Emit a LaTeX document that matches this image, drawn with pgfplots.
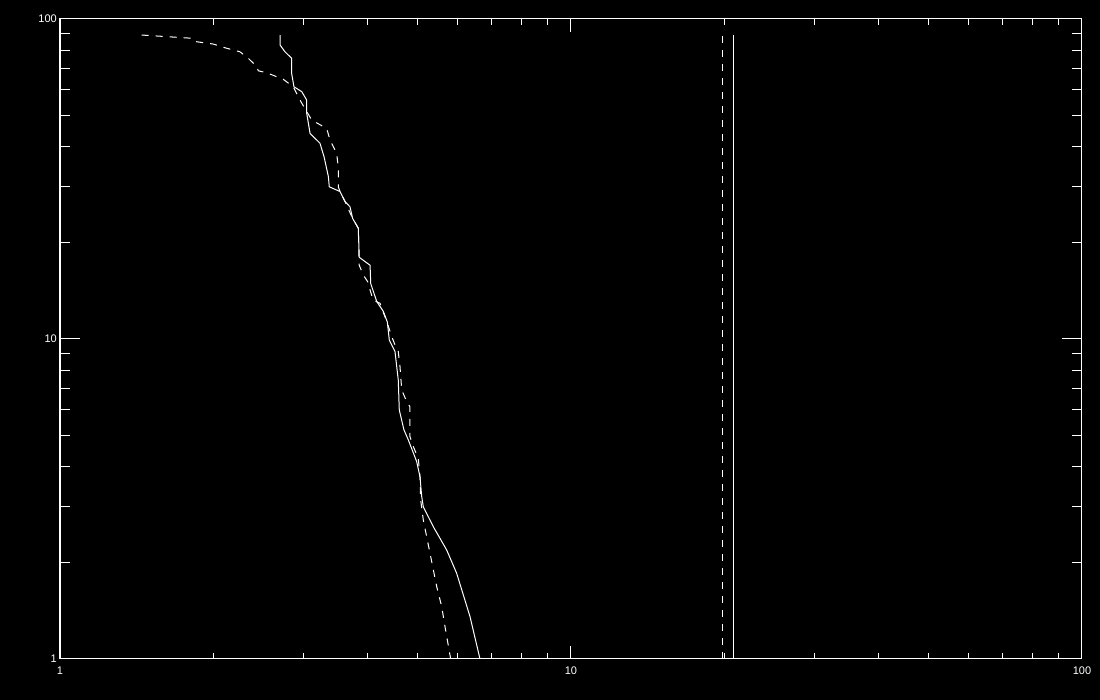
\documentclass[border=0pt]{standalone}
\usepackage{pgfplots}
\pgfplotsset{compat=1.18}
\usepackage{fontspec}
\setmainfont{Liberation Sans}
\begin{document}
\begin{tikzpicture}
\fill[black] (-60pt,-41pt) rectangle (1040pt,659pt);
\begin{axis}[
  xmode=log, ymode=log,
  scale only axis, width=1022pt, height=640pt,
  xmin=1, xmax=100, ymin=1, ymax=100,
  axis line style={white, line width=1pt},
  tick style={white, line width=1pt},
  tick align=inside,
  tick label style={text=white, font=\fontsize{11}{12}\selectfont, inner sep=0pt},
  xtick={1,10,100}, xticklabels={1,10,100},
  xticklabel style={yshift=-8pt},
  ytick=\empty, yminorticks=false,
  major tick length=13pt, minor tick length=6.4pt,
]
\addplot[white, line width=1pt] coordinates {
(2.696,89.1) (2.696,82.9) (2.756,79.0) (2.840,75.4) (2.840,67.6) (2.870,61.4)
(2.972,59.3) (3.040,55.8) (3.040,50.7) (3.086,43.9) (3.227,40.9) (3.287,37.1)
(3.351,32.2) (3.365,29.9) (3.532,28.9) (3.612,26.9) (3.694,25.9) (3.739,23.8)
(3.835,22.2) (3.852,18.0) (4.044,17.0) (4.056,14.9) (4.167,13.1) (4.293,12.2)
(4.371,11.3) (4.410,9.93) (4.525,9.13) (4.592,7.44) (4.613,6.00) (4.711,5.20)
(4.804,4.84) (4.989,4.14) (5.064,3.71) (5.103,3.22) (5.140,2.99) (5.378,2.59)
(5.712,2.19) (5.974,1.853) (6.345,1.356) (6.637,1.0)
};
\addplot[white, line width=1pt, dash pattern=on 7pt off 7pt] coordinates {
(1.445,89.1) (1.823,87.0) (1.851,84.9) (1.995,83.5) (2.120,81.0) (2.250,79.0)
(2.336,75.4) (2.426,71.0) (2.444,68.9) (2.539,67.9) (2.735,64.8) (2.861,61.4)
(2.949,55.8) (3.109,48.3) (3.326,45.5) (3.376,41.9) (3.479,38.0) (3.504,34.5)
(3.504,29.9) (3.532,28.9) (3.612,26.9) (3.739,23.8) (3.835,22.2) (3.852,17.0)
(3.923,15.85) (4.001,15.1) (4.098,13.24) (4.229,12.93) (4.371,11.2) (4.459,10.17)
(4.525,9.58) (4.592,9.13) (4.628,8.19) (4.664,6.93) (4.770,6.37) (4.841,6.14)
(4.841,4.95) (4.914,4.61) (5.025,4.24) (5.064,3.71) (5.080,3.14) (5.140,2.72)
(5.298,2.14) (5.461,1.683) (5.585,1.457) (5.668,1.262) (5.815,1.0)
};
\addplot[white, line width=1pt, dash pattern=on 7pt off 7pt] coordinates {(19.81,1) (19.81,89.1)};
\addplot[white, line width=1pt] coordinates {(20.84,1) (20.84,89.1)};
\end{axis}
\begin{axis}[
  xmode=log, ymode=log,
  scale only axis, width=1022pt, height=640pt,
  xmin=1, xmax=100, ymin=1, ymax=100,
  axis line style={white, line width=1pt},
  tick style={white, line width=1pt},
  tick align=inside,
  tick label style={text=white, font=\fontsize{11}{12}\selectfont, inner sep=0pt},
  xtick=\empty, xminorticks=false,
  ytick={1,10,100}, yticklabels={1,10,100},
  yticklabel style={xshift=-3pt},
  major tick length=20pt, minor tick length=10pt,
]
\end{axis}
\end{tikzpicture}
\end{document}
